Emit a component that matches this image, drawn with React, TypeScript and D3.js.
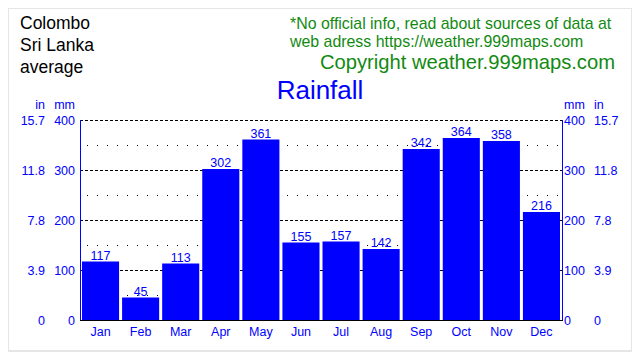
import React from "react";
import * as d3 from "d3";

const months = ["Jan", "Feb", "Mar", "Apr", "May", "Jun", "Jul", "Aug", "Sep", "Oct", "Nov", "Dec"];
const rainfallMm = [117, 45, 113, 302, 361, 155, 157, 142, 342, 364, 358, 216];
const mmTicks = [0, 100, 200, 300, 400];
const inTickLabels = ["0", "3.9", "7.8", "11.8", "15.7"];
const minorTicks = [50, 150, 250, 350];
const placeLines = ["Colombo", "Sri Lanka", "average"];
const noteLines = ["*No official info, read about sources of data at", "web adress https://weather.999maps.com"];

const FONT = "'Liberation Sans', Arial, Helvetica, sans-serif";
const BLUE = "#0000ff";
const GREEN = "#128a12";

const App = () => {
    const width = 640;
    const height = 360;
    const plot = { left: 80, right: 562, top: 120, bottom: 320 };

    const xScale = d3
        .scaleBand<string>()
        .domain(months)
        .range([plot.left, plot.right])
        .paddingInner(0.075)
        .paddingOuter(0.05);
    const yScale = d3.scaleLinear().domain([0, 400]).range([plot.bottom, plot.top]);

    return (
        <div style={{ margin: -8, width, height }}>
            <svg width={width} height={height} style={{ display: "block" }} fontFamily={FONT}>
                <rect x={0} y={0} width={width} height={height} fill="#e6e6e6" />
                <rect x={9} y={9} width={622} height={341} fill="#ffffff" />

                {/* header texts */}
                {placeLines.map((t, i) => (
                    <text key={t} x={20} y={29 + i * 22} fontSize={17.5} fill="#000">
                        {t}
                    </text>
                ))}
                {noteLines.map((t, i) => (
                    <text key={t} x={290} y={29 + i * 18} fontSize={15.9} fill={GREEN}>
                        {t}
                    </text>
                ))}
                <text x={615} y={69} fontSize={20.2} fill={GREEN} textAnchor="end">
                    Copyright weather.999maps.com
                </text>
                <text x={320} y={99} fontSize={26} fill={BLUE} textAnchor="middle">
                    Rainfall
                </text>

                {/* grid lines */}
                {mmTicks.slice(1).map((v) => (
                    <line
                        key={"g" + v}
                        x1={plot.left}
                        x2={plot.right}
                        y1={yScale(v) + 0.5}
                        y2={yScale(v) + 0.5}
                        stroke="#000"
                        strokeDasharray="3,2"
                    />
                ))}
                {minorTicks.map((v) => (
                    <line
                        key={"m" + v}
                        x1={plot.left + 7}
                        x2={plot.right}
                        y1={yScale(v) + 0.5}
                        y2={yScale(v) + 0.5}
                        stroke="#000"
                        strokeDasharray="1,9"
                    />
                ))}

                {/* bars */}
                {rainfallMm.map((v, i) => (
                    <rect
                        key={months[i]}
                        x={xScale(months[i])}
                        y={yScale(v)}
                        width={xScale.bandwidth()}
                        height={yScale(0) - yScale(v)}
                        fill={BLUE}
                    />
                ))}
                {rainfallMm.map((v, i) => (
                    <text
                        key={"l" + months[i]}
                        x={(xScale(months[i]) as number) + xScale.bandwidth() / 2}
                        y={yScale(v) - 2}
                        fontSize={12.5}
                        fill={BLUE}
                        textAnchor="middle"
                    >
                        {v}
                    </text>
                ))}

                {/* axes */}
                <line x1={plot.left + 0.5} x2={plot.left + 0.5} y1={plot.top} y2={plot.bottom} stroke={BLUE} />
                <line x1={plot.right + 0.5} x2={plot.right + 0.5} y1={plot.top} y2={plot.bottom} stroke={BLUE} />
                <line x1={plot.left} x2={plot.right + 1} y1={plot.bottom + 0.5} y2={plot.bottom + 0.5} stroke="#000" />

                {/* tick labels */}
                <g fontSize={12.5} fill={BLUE}>
                    <text x={45} y={109} textAnchor="end">in</text>
                    <text x={75} y={109} textAnchor="end">mm</text>
                    <text x={564} y={109}>mm</text>
                    <text x={594} y={109}>in</text>
                    {mmTicks.map((v, i) => (
                        <g key={"t" + v}>
                            <text x={45} y={yScale(v) + 4.5} textAnchor="end">{inTickLabels[i]}</text>
                            <text x={75} y={yScale(v) + 4.5} textAnchor="end">{v}</text>
                            <text x={564} y={yScale(v) + 4.5}>{v}</text>
                            <text x={594} y={yScale(v) + 4.5}>{inTickLabels[i]}</text>
                        </g>
                    ))}
                    {months.map((m) => (
                        <text
                            key={"x" + m}
                            x={(xScale(m) as number) + xScale.bandwidth() / 2}
                            y={336}
                            textAnchor="middle"
                        >
                            {m}
                        </text>
                    ))}
                </g>
            </svg>
        </div>
    );
};

export default App;
